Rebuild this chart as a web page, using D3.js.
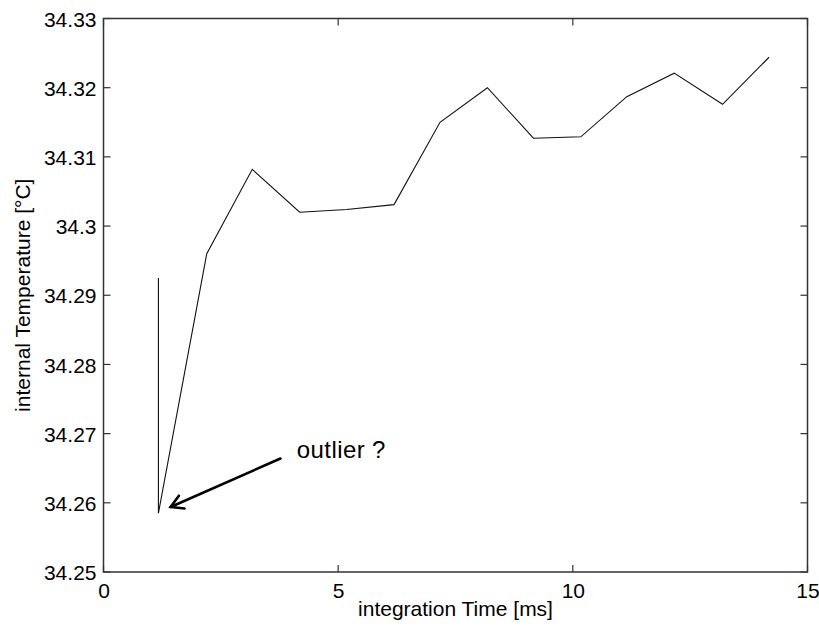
<!DOCTYPE html>
<html>
<head>
<meta charset="utf-8">
<style>
  body { margin: 0; background: #fff; }
  svg text { font-family: "Liberation Sans", Arial, sans-serif; fill: #000; }
</style>
</head>
<body>
<div id="chart"></div>
<script src="https://d3js.org/d3.v7.min.js"></script>
<script>
  // data
  const timeMs = [1.17, 1.17, 2.2, 3.17, 4.18, 5.18, 6.19, 7.17, 8.18, 9.16, 10.17, 11.15, 12.16, 13.19, 14.18];
  const tempC = [34.2925, 34.2585, 34.2960, 34.3082, 34.3020, 34.3024, 34.3031, 34.3150, 34.3200, 34.3127, 34.3129, 34.3187, 34.3221, 34.3176, 34.3244];

  const xTicks = [0, 5, 10, 15];
  const xTickLabels = ["0", "5", "10", "15"];
  const yTicks = [34.25, 34.26, 34.27, 34.28, 34.29, 34.30, 34.31, 34.32, 34.33];
  const yTickLabels = ["34.25", "34.26", "34.27", "34.28", "34.29", "34.3", "34.31", "34.32", "34.33"];

  // annotation (data units): text anchor, arrow tail and tip
  const noteText = "outlier ?";
  const notePos = [4.12, 34.2665];
  const arrowFrom = [3.77, 34.2664];
  const arrowTo = [1.43, 34.2594];

  const W = 819, H = 632;
  const pLeft = 103.5, pRight = 807.5, pTop = 18.5, pBottom = 572;

  const svg = d3.select('#chart')
                .append('svg')
                .attr('width', W)
                .attr('height', H);

  const x = d3.scaleLinear().domain([0, 15]).range([pLeft, pRight]);
  const y = d3.scaleLinear().domain([34.25, 34.33]).range([pBottom, pTop]);

  const tickLen = 7;
  const axisColor = "#333";

  // axes, ticks inside on all four sides
  const xAx = d3.axisBottom(x).tickValues(xTicks).tickSize(0).tickFormat((d, i) => xTickLabels[i]);
  const yAx = d3.axisLeft(y).tickValues(yTicks).tickSize(0).tickFormat((d, i) => yTickLabels[i]);

  const gx = svg.append('g').attr('transform', `translate(0,${pBottom})`).call(xAx);
  gx.select('.domain').remove();
  gx.selectAll('text').attr('dy', null).attr('y', 26).style('font-size', '21px');

  const gy = svg.append('g').attr('transform', `translate(${pLeft},0)`).call(yAx);
  gy.select('.domain').remove();
  gy.selectAll('text').attr('x', -7).attr('dy', '0.36em').style('font-size', '21px');

  const ticks = svg.append('g').attr('stroke', axisColor).attr('stroke-width', 1.2);
  xTicks.forEach(t => {
    ticks.append('line').attr('x1', x(t)).attr('x2', x(t)).attr('y1', pBottom).attr('y2', pBottom - tickLen);
    ticks.append('line').attr('x1', x(t)).attr('x2', x(t)).attr('y1', pTop).attr('y2', pTop + tickLen);
  });
  yTicks.forEach(t => {
    ticks.append('line').attr('y1', y(t)).attr('y2', y(t)).attr('x1', pLeft).attr('x2', pLeft + tickLen);
    ticks.append('line').attr('y1', y(t)).attr('y2', y(t)).attr('x1', pRight).attr('x2', pRight - tickLen);
  });

  // box
  svg.append('rect')
     .attr('x', pLeft).attr('y', pTop)
     .attr('width', pRight - pLeft).attr('height', pBottom - pTop)
     .attr('fill', 'none')
     .attr('stroke', axisColor)
     .attr('stroke-width', 1.5);

  // data line
  const line = d3.line().x((d, i) => x(timeMs[i])).y(d => y(d));
  svg.append('path')
     .datum(tempC)
     .attr('d', line)
     .attr('fill', 'none')
     .attr('stroke', '#111')
     .attr('stroke-width', 1.1);

  // axis labels
  svg.append('text')
     .attr('x', (pLeft + pRight) / 2)
     .attr('y', 616)
     .attr('text-anchor', 'middle')
     .style('font-size', '21px')
     .text('integration Time [ms]');

  svg.append('text')
     .attr('transform', `translate(30,${(pTop + pBottom) / 2}) rotate(-90)`)
     .attr('text-anchor', 'middle')
     .style('font-size', '21px')
     .text('internal Temperature [°C]');

  // annotation arrow
  const ax0 = x(arrowFrom[0]), ay0 = y(arrowFrom[1]);
  const ax1 = x(arrowTo[0]), ay1 = y(arrowTo[1]);
  const ang = Math.atan2(ay1 - ay0, ax1 - ax0);
  const headLen = 14, headAng = 0.52;
  const arrow = svg.append('g').attr('stroke', '#000').attr('stroke-width', 2.6).attr('fill', 'none')
                   .attr('stroke-linecap', 'round');
  arrow.append('line').attr('x1', ax0).attr('y1', ay0).attr('x2', ax1).attr('y2', ay1);
  arrow.append('polyline')
       .attr('points', [
         [ax1 - headLen * Math.cos(ang - headAng), ay1 - headLen * Math.sin(ang - headAng)],
         [ax1, ay1],
         [ax1 - headLen * Math.cos(ang + headAng), ay1 - headLen * Math.sin(ang + headAng)]
       ].map(p => p.join(',')).join(' '));

  svg.append('text')
     .attr('x', x(notePos[0]))
     .attr('y', y(notePos[1]))
     .style('font-size', '24px')
     .style('letter-spacing', '0.4px')
     .text(noteText);
</script>
</body>
</html>
